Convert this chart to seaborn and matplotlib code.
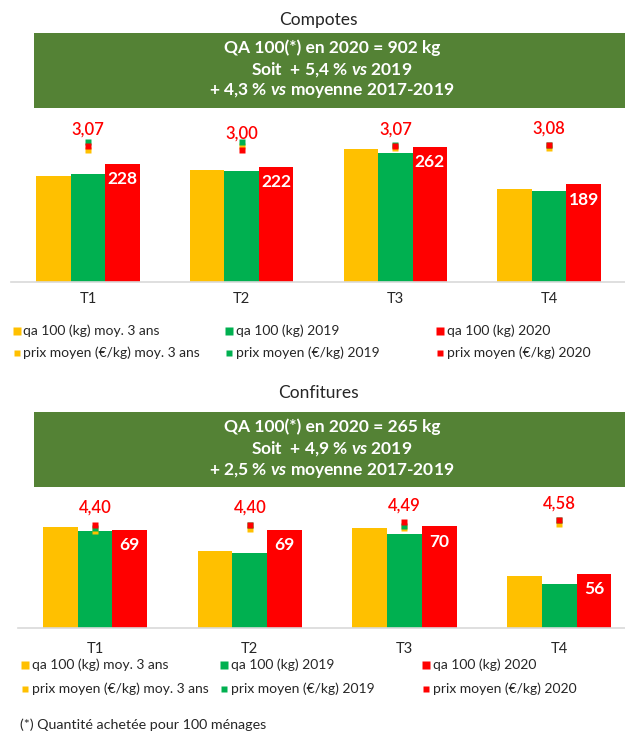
import numpy as np
import pandas as pd
import matplotlib
matplotlib.use("Agg")
import matplotlib.pyplot as plt
from matplotlib.lines import Line2D
from matplotlib.patches import Rectangle
import seaborn as sns

# ---------------- data ----------------
quarters = ["T1", "T2", "T3", "T4"]
series = ["moy. 3 ans", "2019", "2020"]
colors = ["#FFC000", "#00B050", "#FF0000"]

compotes_qa_moy3 = [205, 216, 257, 180]
compotes_qa_2019 = [209, 215, 250, 176]
compotes_qa_2020 = [228, 222, 262, 189]
compotes_prix_moy3 = [3.00, 3.07, 3.04, 3.03]
compotes_prix_2019 = [3.13, 3.14, 3.08, 3.08]
compotes_prix_2020 = [3.07, 3.00, 3.07, 3.08]

confitures_qa_moy3 = [69.9, 62.8, 69.6, 55.4]
confitures_qa_2019 = [68.7, 62.2, 67.8, 53.0]
confitures_qa_2020 = [69, 69, 70, 56]
confitures_prix_moy3 = [4.13, 4.24, 4.25, 4.41]
confitures_prix_2019 = [4.26, 4.40, 4.35, 4.58]
confitures_prix_2020 = [4.40, 4.40, 4.49, 4.58]

titles = ["Compotes", "Confitures"]
banner_lines = [
    ["QA 100(*) en 2020 = 902 kg", r"Soit  + 5,4 % $\mathit{vs}$ 2019", r"+ 4,3 % $\mathit{vs}$ moyenne 2017-2019"],
    ["QA 100(*) en 2020 = 265 kg", r"Soit  + 4,9 % $\mathit{vs}$ 2019", r"+ 2,5 % $\mathit{vs}$ moyenne 2017-2019"],
]
legend_labels = [
    ["qa 100 (kg) moy. 3 ans", "qa 100 (kg) 2019", "qa 100 (kg) 2020"],
    ["prix moyen (€/kg) moy. 3 ans", "prix moyen (€/kg) 2019", "prix moyen (€/kg) 2020"],
]
footnote = "(*) Quantité achetée pour 100 ménages"

# ---------------- style ----------------
sns.set_theme(style="white")
plt.rcParams["font.family"] = ["Lato", "DejaVu Sans"]
plt.rcParams["mathtext.fontset"] = "custom"
plt.rcParams["mathtext.rm"] = "Lato:bold"
plt.rcParams["mathtext.it"] = "Lato:italic:bold"
plt.rcParams["mathtext.bf"] = "Lato:bold"

W, H = 625, 736
fig = plt.figure(figsize=(W / 100, H / 100), dpi=100)
fig.patch.set_facecolor("white")


def fx(px):
    return px / W


def fy(py):
    return 1 - py / H


TXT = "#262626"


def draw_panel(qa_lists, prix_lists, ax_box, ylim, ylim2, title, title_y, banner_top, banner_lines_, line_ys,
               tick_pad, legend_rows, leg_cols):
    left, top, right, bottom = ax_box
    ax = fig.add_axes([fx(left), fy(bottom), fx(right - left), (bottom - top) / H])
    df = pd.DataFrame({
        "quarter": np.tile(quarters, 3),
        "series": np.repeat(series, 4),
        "qa": np.concatenate(qa_lists),
    })
    sns.barplot(data=df, x="quarter", y="qa", hue="series", hue_order=series,
                palette=colors, width=0.673, saturation=1, linewidth=0,
                legend=False, ax=ax, errorbar=None)
    ax.set_xlim(-0.5, 3.5)
    ax.set_ylim(*ylim)
    ax.set_xlabel("")
    ax.set_ylabel("")
    ax.set_yticks([])
    for s in ["top", "left", "right"]:
        ax.spines[s].set_visible(False)
    ax.spines["bottom"].set_color("#D9D9D9")
    ax.spines["bottom"].set_linewidth(1.2)
    ax.tick_params(axis="x", length=0, pad=tick_pad, labelsize=10.5, labelcolor=TXT)
    ax.patch.set_alpha(0)

    # value labels inside the 2020 bars
    for bar, v in zip(ax.containers[2], qa_lists[2]):
        ax.annotate(f"{v:g}", (bar.get_x() + bar.get_width() / 2, bar.get_height()),
                    xytext=(0, -11), textcoords="offset points", ha="center", va="center",
                    color="white", fontsize=12.5, fontweight="bold")

    # price markers on a secondary axis
    ax2 = ax.twinx()
    ax2.set_ylim(*ylim2)
    ax2.set_yticks([])
    for s in ax2.spines.values():
        s.set_visible(False)
    xs = np.arange(len(quarters))
    for prices, c in zip(prix_lists, colors):
        ax2.plot(xs, prices, ls="none", marker="s", ms=4.3, color=c, mec="none")
    for x, p in zip(xs, prix_lists[2]):
        ax2.annotate(f"{p:.2f}".replace(".", ","), (x, p), xytext=(0, 12), textcoords="offset points",
                     ha="center", va="center", color="#FF0000", fontsize=12, fontweight="semibold")
    ax2.set_xlim(-0.5, 3.5)

    # title and banner
    fig.text(fx(318), fy(title_y), title, ha="center", va="center", fontsize=12.5, color=TXT)
    fig.add_artist(Rectangle((fx(34), fy(banner_top + 75)), fx(W - 34), 75 / H,
                             transform=fig.transFigure, facecolor="#548235", edgecolor="none"))
    for line, y in zip(banner_lines_, line_ys):
        fig.text(fx(332), fy(y), line, ha="center", va="center", fontsize=12.5,
                 fontweight="bold", color="white")

    # legend
    for (row_y, ms), labels in zip(legend_rows, legend_labels):
        for (mx, tx), c, lab in zip(leg_cols, colors, labels):
            fig.add_artist(Line2D([fx(mx)], [fy(row_y)], transform=fig.transFigure, ls="none",
                                  marker="s", ms=ms, color=c, mec="none"))
            fig.text(fx(tx), fy(row_y), lab, ha="left", va="center", fontsize=10, color=TXT)


draw_panel([compotes_qa_moy3, compotes_qa_2019, compotes_qa_2020],
           [compotes_prix_moy3, compotes_prix_2019, compotes_prix_2020],
           (11, 115, 626, 282), (0, 323), (0.803, 3.587),
           titles[0], 20, 33, banner_lines[0], [48, 70, 91], 7,
           [(331, 5.5), (353, 3.8)], [(17, 23), (229, 236), (440, 447)])

draw_panel([confitures_qa_moy3, confitures_qa_2019, confitures_qa_2020],
           [confitures_prix_moy3, confitures_prix_2019, confitures_prix_2020],
           (17.7, 495, 636.5, 628), (40, 79.3), (0.264, 5.584),
           titles[1], 393, 412, banner_lines[1], [427, 449, 470], 10,
           [(665, 5.5), (689, 3.8)], [(25, 32), (224, 231), (425.5, 433)])

fig.text(fx(20), fy(725), footnote, ha="left", va="center", fontsize=10.3, color=TXT)

fig.savefig("out.png", dpi=100)
